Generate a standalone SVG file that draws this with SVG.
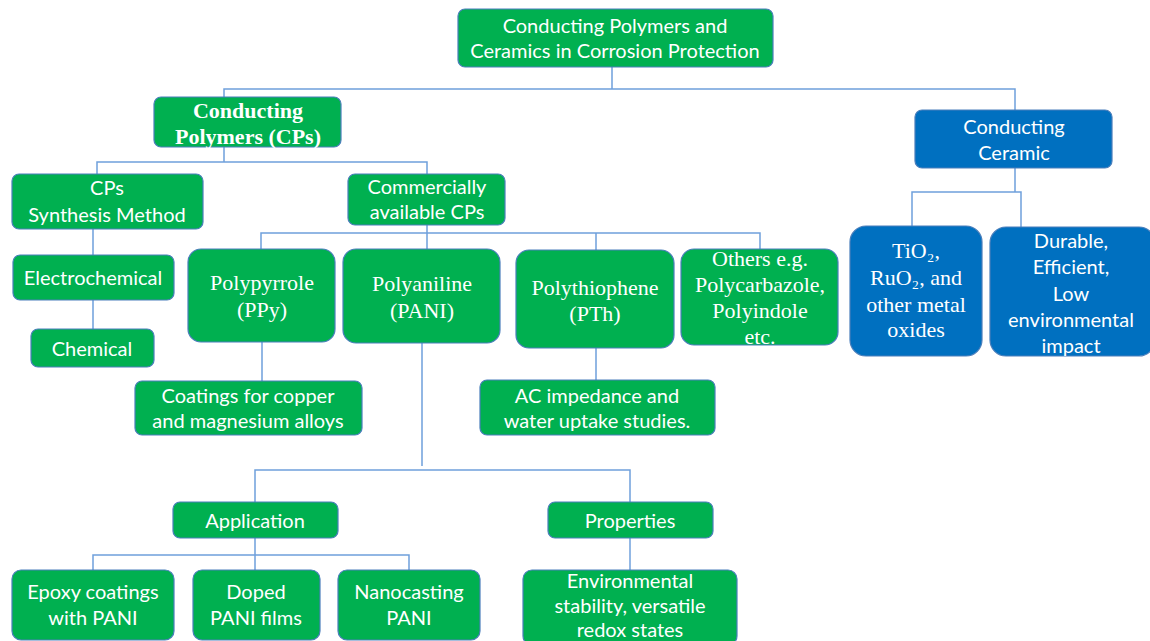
<svg xmlns="http://www.w3.org/2000/svg" width="1150" height="641" viewBox="0 0 1150 641">
<style>
.g{fill:#00B050;stroke:#4A7EBB;stroke-width:1.2}
.b{fill:#0070C0;stroke:#4A7EBB;stroke-width:1.2}
.t{font-family:Lato,"Liberation Sans",sans-serif;font-size:20px;fill:#fff;text-anchor:middle;dominant-baseline:central}
.s{font-family:"Liberation Serif",serif;font-size:22px;fill:#fff;text-anchor:middle;dominant-baseline:central}
.c{fill:none;stroke:#6FA0DC;stroke-width:1.5}
</style>
<rect width="1150" height="641" fill="#fff"/>
<g id="connectors">
<path class="c" d="M612 67V89M224 97V89H1015V110"/>
<path class="c" d="M224 147V162M97 174V162H427V174"/>
<path class="c" d="M93 229V255M93 300V330"/>
<path class="c" d="M427 225V233M261 249V233H760V249M427 233V249M596 233V250"/>
<path class="c" d="M1015 168V192M912 226V192H1021V227"/>
<path class="c" d="M262 342V381M596 348V380"/>
<path class="c" d="M422 343V466M255 502V470H630V502"/>
<path class="c" d="M255 538V555M93 570V555H409V570M255 555V570"/>
<path class="c" d="M630 538V570"/>
</g>
<g id="root"><rect class="g" x="458" y="9" width="315" height="58" rx="7"/><text class="t" x="615" y="25">Conducting Polymers and</text><text class="t" x="615" y="50">Ceramics in Corrosion Protection</text></g>
<g id="cps"><rect class="g" x="154" y="97" width="187" height="50" rx="7"/><text class="s" x="248" y="110" font-size="21.5" font-weight="bold">Conducting</text><text class="s" x="248" y="136" font-size="21.5" font-weight="bold">Polymers (CPs)</text></g>
<g id="ceramic"><rect class="b" x="915" y="110" width="197" height="58" rx="7"/><text class="t" x="1014" y="126">Conducting</text><text class="t" x="1014" y="152">Ceramic</text></g>
<g id="synthesis"><rect class="g" x="12" y="174" width="191" height="55" rx="7"/><text class="t" x="107" y="187">CPs</text><text class="t" x="107" y="214">Synthesis Method</text></g>
<g id="commercial"><rect class="g" x="348" y="174" width="157" height="51" rx="7"/><text class="t" x="427" y="186">Commercially</text><text class="t" x="427" y="211">available CPs</text></g>
<g id="electrochemical"><rect class="g" x="13" y="255" width="161" height="45" rx="7"/><text class="t" x="93" y="277">Electrochemical</text></g>
<g id="chemical"><rect class="g" x="31" y="329" width="123" height="38" rx="7"/><text class="t" x="92" y="348">Chemical</text></g>
<g id="ppy"><rect class="g" x="188" y="249" width="147" height="93" rx="13"/><text class="s" x="262" y="282">Polypyrrole</text><text class="s" x="262" y="309">(PPy)</text></g>
<g id="pani"><rect class="g" x="343" y="249" width="157" height="94" rx="13"/><text class="s" x="422" y="283">Polyaniline</text><text class="s" x="422" y="310">(PANI)</text></g>
<g id="pth"><rect class="g" x="516" y="250" width="158" height="98" rx="13"/><text class="s" x="595" y="287">Polythiophene</text><text class="s" x="595" y="313">(PTh)</text></g>
<g id="others"><rect class="g" x="681" y="249" width="157" height="96" rx="13"/><text class="s" x="760" y="258">Others e.g.</text><text class="s" x="760" y="284">Polycarbazole,</text><text class="s" x="760" y="310">Polyindole</text><text class="s" x="760" y="336">etc.</text></g>
<g id="oxides"><rect class="b" x="850" y="226" width="132" height="130" rx="16"/><text class="s" x="916" y="250">TiO₂,</text><text class="s" x="916" y="277">RuO₂, and</text><text class="s" x="916" y="304">other metal</text><text class="s" x="916" y="329">oxides</text></g>
<g id="durable"><rect class="b" x="990" y="227" width="165" height="129" rx="16"/><text class="t" x="1071" y="240">Durable,</text><text class="t" x="1071" y="266">Efficient,</text><text class="t" x="1071" y="293">Low</text><text class="t" x="1071" y="319">environmental</text><text class="t" x="1071" y="345">impact</text></g>
<g id="coatings"><rect class="g" x="135" y="381" width="227" height="54" rx="7"/><text class="t" x="248" y="395">Coatings for copper</text><text class="t" x="248" y="420">and magnesium alloys</text></g>
<g id="ac"><rect class="g" x="480" y="380" width="235" height="55" rx="7"/><text class="t" x="597" y="395">AC impedance and</text><text class="t" x="597" y="420">water uptake studies.</text></g>
<g id="application"><rect class="g" x="173" y="502" width="165" height="36" rx="7"/><text class="t" x="255" y="520">Application</text></g>
<g id="properties"><rect class="g" x="548" y="502" width="165" height="36" rx="7"/><text class="t" x="630" y="520">Properties</text></g>
<g id="epoxy"><rect class="g" x="12" y="570" width="162" height="70" rx="9"/><text class="t" x="93" y="591">Epoxy coatings</text><text class="t" x="93" y="617">with PANI</text></g>
<g id="doped"><rect class="g" x="193" y="570" width="127" height="70" rx="9"/><text class="t" x="256" y="591">Doped</text><text class="t" x="256" y="617">PANI films</text></g>
<g id="nanocasting"><rect class="g" x="338" y="570" width="142" height="70" rx="9"/><text class="t" x="409" y="591">Nanocasting</text><text class="t" x="409" y="617">PANI</text></g>
<g id="environmental"><rect class="g" x="523" y="570" width="214" height="75" rx="9"/><text class="t" x="630" y="580">Environmental</text><text class="t" x="630" y="605">stability, versatile</text><text class="t" x="630" y="629">redox states</text></g>
</svg>
